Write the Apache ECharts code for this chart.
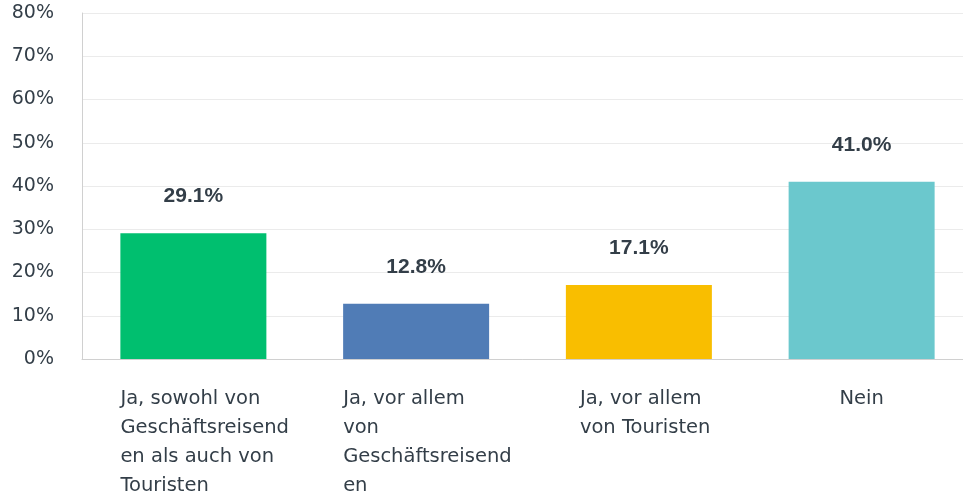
<!DOCTYPE html>
<html>
<head>
<meta charset="utf-8">
<script src="https://cdn.jsdelivr.net/npm/echarts@6/dist/echarts.min.js"></script>
<style>html,body{margin:0;padding:0;background:#fff;}#c{width:963px;height:496px;}</style>
</head>
<body>
<div id="c"></div>
<script>
const categories = [
  "Ja, sowohl von\nGeschäftsreisend\nen als auch von\nTouristen",
  "Ja, vor allem\nvon\nGeschäftsreisend\nen",
  "Ja, vor allem\nvon Touristen",
  "Nein"
];
const values = [29.1, 12.8, 17.1, 41.0];
const colors = ["#00bf6f", "#507cb6", "#f9be00", "#6bc8cd"];
const yTicks = [0, 10, 20, 30, 40, 50, 60, 70, 80];

const FONT = "DejaVu Sans";
const TXT = '#333e48';
const labelKeys = ['w', 'w', 'm', 'n'];
const baseRich = {fontFamily: FONT, fontSize: 19.5, lineHeight: 29, color: TXT, align: 'left'};
const chart = echarts.init(document.getElementById('c'), null, {renderer: 'canvas'});
chart.setOption({
  animation: false,
  grid: {left: 82, width: 891, top: 13, bottom: 137, containLabel: false, outerBoundsMode: 'none'},
  xAxis: {
    type: 'category',
    data: categories,
    axisLine: {show: true, lineStyle: {color: '#d0d0d0', width: 1}},
    axisTick: {show: false},
    axisLabel: {
      interval: 0,
      margin: 25,
      align: 'center',
      verticalAlign: 'top',
      formatter: (v, i) => v.split('\n').map(l => '{' + labelKeys[i] + '|' + l + '}').join('\n'),
      rich: {
        w: Object.assign({}, baseRich, {width: 146}),
        m: Object.assign({}, baseRich, {width: 118}),
        n: Object.assign({}, baseRich)
      }
    }
  },
  yAxis: {
    type: 'value',
    min: yTicks[0], max: yTicks[yTicks.length - 1], interval: 10,
    axisLine: {show: true, lineStyle: {color: '#d0d0d0', width: 1}},
    axisTick: {show: false},
    splitLine: {show: true, lineStyle: {color: '#ebebeb', width: 1}},
    axisLabel: {margin: 28, padding: [5, 0, 0, 0], formatter: '{value}%', fontFamily: FONT, fontSize: 19, color: TXT}
  },
  series: [{
    type: 'bar',
    barWidth: 146,
    data: values.map((v, i) => ({value: v, itemStyle: {color: colors[i]}})),
    label: {
      show: true, position: 'top', distance: 26,
      formatter: p => p.value.toFixed(1) + '%',
      fontFamily: 'Liberation Sans', fontSize: 21, fontWeight: 'bold', color: TXT
    }
  }]
});
</script>
</body>
</html>
